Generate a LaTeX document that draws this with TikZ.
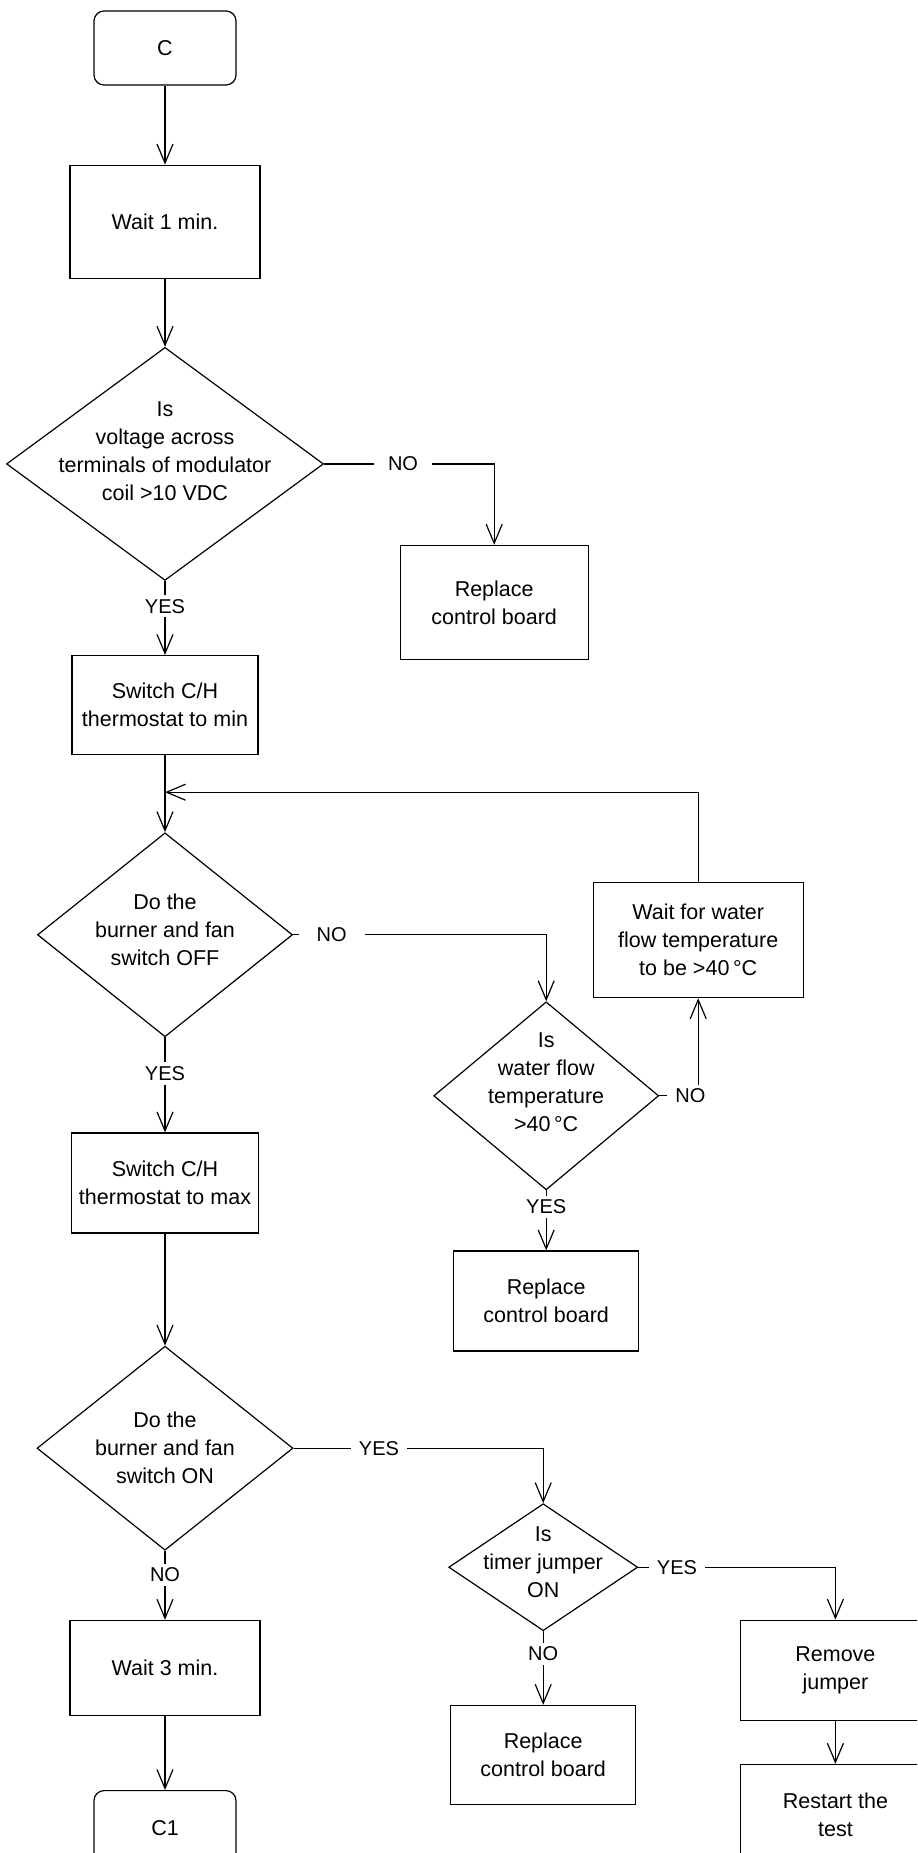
\documentclass[tikz,border=0pt]{standalone}
\usepackage{fontspec}
\setmainfont{Liberation Sans}
\usetikzlibrary{arrows.meta,positioning,shapes.geometric}
\tikzset{
  box/.style={draw, align=center, font=\fontsize{10.75}{14}\selectfont, inner sep=2pt},
  term/.style={box, rounded corners=5pt, minimum width=71pt, minimum height=37pt},
  decision/.style={draw, diamond, inner sep=0pt},
  qtext/.style={align=center, font=\fontsize{10.75}{14}\selectfont, inner sep=0pt},
  lbl/.style={fill=white, font=\fontsize{10}{12}\selectfont, inner xsep=4pt, inner ysep=2pt},
  arrow/.style={-{Straight Barb[length=9.5pt,width=8pt]}}
}

\begin{document}
\begin{tikzpicture}[line width=0.6pt]
  \useasboundingbox (0,0) rectangle (458.5pt,-926.5pt);
  \clip (0,0) rectangle (458.5pt,-926.5pt);

  % main column
  \node[term] (start) at (82.5pt,-24pt) {C};
  \node[box, below=39.5pt of start, minimum width=95pt, minimum height=56.5pt] (wait1) {Wait 1 min.};
  \node[decision, below=34pt of wait1, minimum width=158.5pt, minimum height=116.5pt] (dia1) {};
  \node[qtext, yshift=6.5pt] (q1) at (dia1) {Is\\voltage across\\terminals of modulator\\coil >10 VDC};
  \node[box, below=37pt of dia1, minimum width=93pt, minimum height=49.5pt] (swmin) {Switch C/H\\thermostat to min};
  \coordinate[below=18.5pt of swmin] (join);
  \node[decision, below=38.5pt of swmin, minimum width=127.5pt, minimum height=102pt] (dia2) {};
  \node[qtext, yshift=2.5pt] (q2) at (dia2) {Do the\\burner and fan\\switch OFF};
  \node[box, below=47.5pt of dia2, minimum width=93.5pt, minimum height=50pt] (swmax) {Switch C/H\\thermostat to max};
  \node[decision, below=56pt of swmax, minimum width=128pt, minimum height=102pt] (dia4) {};
  \node[qtext] (q4) at (dia4) {Do the\\burner and fan\\switch ON};
  \node[box, below=34.5pt of dia4, minimum width=95pt, minimum height=47.5pt] (wait3) {Wait 3 min.};
  \node[term, below=37pt of wait3] (stop) {C1};

  % right-hand branches
  \node[box, right=37.75pt of dia1, yshift=-69.25pt, minimum width=94pt, minimum height=57pt] (rep1) {Replace\\control board};
  \node[decision, right=70pt of dia2, yshift=-80.5pt, minimum width=112.5pt, minimum height=94pt] (dia3) {};
  \node[qtext, yshift=7pt] (q3) at (dia3) {Is\\water flow\\temperature\\>40\,°C};
  \node[box, above=1.5pt of dia3, xshift=76pt, minimum width=105pt, minimum height=57.5pt] (wwait) {Wait for water\\flow temperature\\to be >40\,°C};
  \node[box, below=30pt of dia3, minimum width=92.5pt, minimum height=50pt] (rep2) {Replace\\control board};
  \node[decision, right=77.25pt of dia4, yshift=-59.5pt, minimum width=94.5pt, minimum height=63.5pt] (dia5) {};
  \node[qtext, yshift=2.5pt] (q5) at (dia5) {Is\\timer jumper\\ON};
  \node[box, below=36.75pt of dia5, minimum width=92.5pt, minimum height=49.5pt] (rep3) {Replace\\control board};
  \node[box, right=50.75pt of dia5, yshift=-51.5pt, minimum width=95pt, minimum height=50pt] (remove) {Remove\\jumper};
  \node[box, below=21.5pt of remove, minimum width=95pt, minimum height=50pt] (restart) {Restart the\\test};

  % arrows
  \draw[arrow] (start) -- (wait1);
  \draw[arrow] (wait1) -- (dia1);
  \draw[arrow] (dia1) -- node[lbl, pos=0.34] (y1) {YES} (swmin);
  \draw[arrow] (dia1.east) -| node[lbl, pos=0.232, inner xsep=7pt] (n1) {NO} (rep1.north);
  \draw[arrow] (swmin) -- (dia2);
  \draw[arrow] (wwait.north) |- (join);
  \draw[arrow] (dia2) -- node[lbl, pos=0.38] (y2) {YES} (swmax);
  \draw[arrow] (dia2.east) -| node[lbl, pos=0.076, inner xsep=9pt] (n2) {NO} (dia3.north);
  \draw[arrow] (dia3.east) -| node[lbl, pos=0.4] (n3) {NO} (wwait.south);
  \draw[arrow] (dia3) -- node[lbl, pos=0.27] (y3) {YES} (rep2);
  \draw[arrow] (swmax) -- (dia4);
  \draw[arrow] (dia4) -- node[lbl, pos=0.35] (n4) {NO} (wait3);
  \draw[arrow] (dia4.east) -| node[lbl, pos=0.171] (y4) {YES} (dia5.north);
  \draw[arrow] (dia5) -- node[lbl, pos=0.31] (n5) {NO} (rep3);
  \draw[arrow] (dia5.east) -| node[lbl, pos=0.098] (y5) {YES} (remove.north);
  \draw[arrow] (wait3) -- (stop);
  \draw[arrow] (remove) -- (restart);
\end{tikzpicture}
\end{document}
